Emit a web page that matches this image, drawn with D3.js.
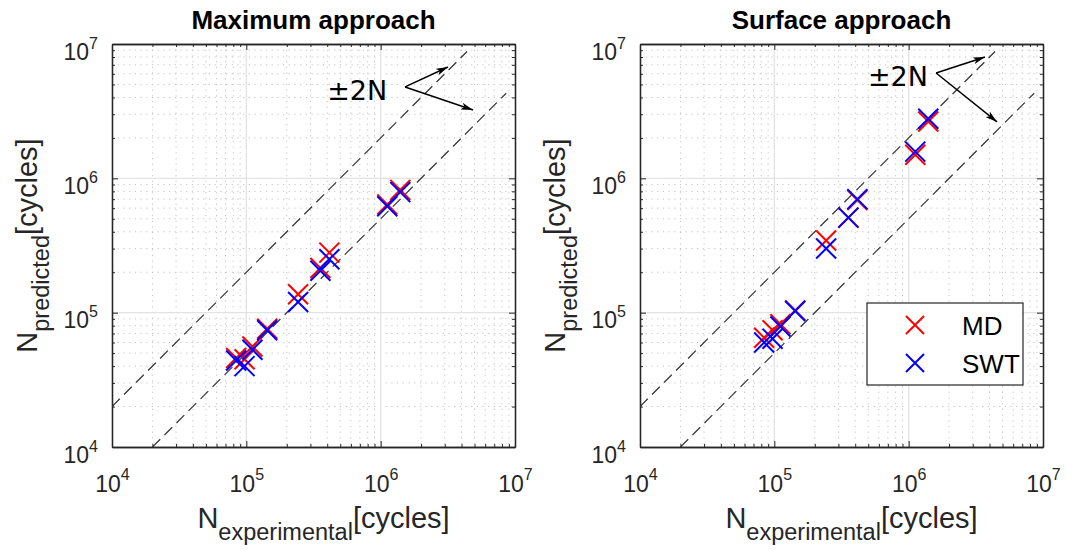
<!DOCTYPE html>
<html>
<head>
<meta charset="utf-8">
<script src="https://cdn.jsdelivr.net/npm/d3@7"></script>
<style>
  html, body { margin: 0; padding: 0; background: #fff; }
  svg { display: block; font-family: "Liberation Sans", Arial, sans-serif; }
</style>
</head>
<body>
<svg id="chart" width="1067" height="550"></svg>
<script>
// ---------------- data ----------------
const panelTitles = ["Maximum approach", "Surface approach"];
const seriesNames = ["MD", "SWT"];
const seriesColors = ["#ff0000", "#0000ff"];
const nExperimental = [8.4e4, 9.7e4, 1.11e5, 1.43e5, 2.43e5, 3.56e5, 4.15e5, 1.12e6, 1.40e6];
const maxMD  = [4.6e4, 4.5e4, 5.6e4, 7.6e4, 1.37e5, 2.15e5, 2.8e5, 6.4e5, 8.2e5];
const maxSWT = [4.4e4, 4.0e4, 5.3e4, 7.4e4, 1.2e5, 2.05e5, 2.5e5, 6.2e5, 7.9e5];
const surfMD  = [6.5e4, 7.4e4, 8.2e4, 1.04e5, 3.45e5, 5.1e5, 6.9e5, 1.5e6, 2.65e6];
const surfSWT = [6.0e4, 6.4e4, 7.9e4, 1.03e5, 3.0e5, 5.1e5, 7.0e5, 1.58e6, 2.78e6];
const majorTicks = [1e4, 1e5, 1e6, 1e7];
const tickExponents = ["4", "5", "6", "7"];
const axisDomain = [1e4, 1e7];
const upperBoundX = [1e4, 4.4e6];   // y = 2x
const lowerBoundX = [2e4, 8.6e6];   // y = x/2
const boundLabel = "\u00b12N";
// annotation anchors in data coordinates
const annotLeft  = { text: [4.0e5, 3.83e6], start: [1.52e6, 4.79e6], up: [3.17e6, 6.74e6], down: [4.87e6, 3.23e6] };
const annotRight = { text: [4.98e5, 4.87e6], start: [1.60e6, 6.08e6], up: [3.70e6, 8.0e6], down: [4.55e6, 2.63e6] };
const xLabelMain = "N", xLabelSub = "experimental";
const yLabelMain = "N", yLabelSub = "predicted";
const unitLabel = "[cycles]";

// ---------------- layout ----------------
const panels = [
  { x0: 112, x1: 515, y0: 44, y1: 447, md: maxMD, swt: maxSWT, annot: annotLeft, legend: false },
  { x0: 640, x1: 1043, y0: 44, y1: 447, md: surfMD, swt: surfSWT, annot: annotRight, legend: true }
];
const svg = d3.select("#chart");
const defs = svg.append("defs");
defs.append("marker").attr("id", "arrow").attr("viewBox", "0 0 12 7")
  .attr("refX", 12).attr("refY", 3.5).attr("markerWidth", 12).attr("markerHeight", 7)
  .attr("markerUnits", "userSpaceOnUse").attr("orient", "auto")
  .append("path").attr("d", "M0,0 L12,3.5 L0,7 L3,3.5 Z").attr("fill", "#000");

const minorTicks = [];
[1e4, 1e5, 1e6].forEach(d => { for (let k = 2; k <= 9; k++) minorTicks.push(d * k); });
const axisColor = "#262626";

function xMark(g, cx, cy, color, r) {
  g.append("path")
    .attr("d", `M${cx - r},${cy - r}L${cx + r},${cy + r}M${cx - r},${cy + r}L${cx + r},${cy - r}`)
    .attr("stroke", color).attr("stroke-width", 2).attr("fill", "none");
}

panels.forEach((p, i) => {
  const x = d3.scaleLog().domain(axisDomain).range([p.x0, p.x1]);
  const y = d3.scaleLog().domain(axisDomain).range([p.y1, p.y0]);
  const g = svg.append("g");

  g.append("rect").attr("x", p.x0).attr("y", p.y0).attr("width", p.x1 - p.x0).attr("height", p.y1 - p.y0).attr("fill", "#fff");

  // minor grid
  g.append("g").selectAll("line").data(minorTicks).join("line")
    .attr("x1", d => x(d)).attr("x2", d => x(d)).attr("y1", p.y0).attr("y2", p.y1)
    .attr("stroke", "#c4c4c4").attr("stroke-width", 1).attr("stroke-dasharray", "1.2,4.5");
  g.append("g").selectAll("line").data(minorTicks).join("line")
    .attr("y1", d => y(d)).attr("y2", d => y(d)).attr("x1", p.x0).attr("x2", p.x1)
    .attr("stroke", "#c4c4c4").attr("stroke-width", 1).attr("stroke-dasharray", "1.2,4.5");
  // major grid
  const inner = majorTicks.slice(1, -1);
  g.append("g").selectAll("line").data(inner).join("line")
    .attr("x1", d => x(d)).attr("x2", d => x(d)).attr("y1", p.y0).attr("y2", p.y1)
    .attr("stroke", "#e3e3e3").attr("stroke-width", 1.3);
  g.append("g").selectAll("line").data(inner).join("line")
    .attr("y1", d => y(d)).attr("y2", d => y(d)).attr("x1", p.x0).attr("x2", p.x1)
    .attr("stroke", "#e3e3e3").attr("stroke-width", 1.3);

  // bound lines
  const clipId = "clip" + i;
  defs.append("clipPath").attr("id", clipId).append("rect")
    .attr("x", p.x0).attr("y", p.y0).attr("width", p.x1 - p.x0).attr("height", p.y1 - p.y0);
  const line = d3.line().x(d => x(d[0])).y(d => y(d[1]));
  const bounds = g.append("g").attr("clip-path", `url(#${clipId})`);
  bounds.append("path").datum(upperBoundX.map(v => [v, 2 * v])).attr("d", line)
    .attr("stroke", "#333").attr("stroke-width", 1.2).attr("fill", "none").attr("stroke-dasharray", "11,6");
  bounds.append("path").datum(lowerBoundX.map(v => [v, v / 2])).attr("d", line)
    .attr("stroke", "#333").attr("stroke-width", 1.2).attr("fill", "none").attr("stroke-dasharray", "11,6");

  // data markers: MD first, SWT on top
  const pts = g.append("g");
  nExperimental.forEach((n, j) => xMark(pts, x(n), y(p.md[j]), seriesColors[0], 10));
  nExperimental.forEach((n, j) => xMark(pts, x(n), y(p.swt[j]), seriesColors[1], 10));

  // axes (ticks inward, all four sides)
  const mk = (axisFn, scale, vals, size) => axisFn(scale).tickValues(vals).tickSize(size).tickSizeOuter(0).tickFormat("");
  const bottom = g.append("g").attr("transform", `translate(0,${p.y1})`).call(mk(d3.axisBottom, x, majorTicks, -6));
  g.append("g").attr("transform", `translate(0,${p.y1})`).call(mk(d3.axisBottom, x, minorTicks, -3));
  g.append("g").attr("transform", `translate(0,${p.y0})`).call(mk(d3.axisTop, x, majorTicks, -6));
  g.append("g").attr("transform", `translate(0,${p.y0})`).call(mk(d3.axisTop, x, minorTicks, -3));
  const left = g.append("g").attr("transform", `translate(${p.x0},0)`).call(mk(d3.axisLeft, y, majorTicks, -6));
  g.append("g").attr("transform", `translate(${p.x0},0)`).call(mk(d3.axisLeft, y, minorTicks, -3));
  g.append("g").attr("transform", `translate(${p.x1},0)`).call(mk(d3.axisRight, y, majorTicks, -6));
  g.append("g").attr("transform", `translate(${p.x1},0)`).call(mk(d3.axisRight, y, minorTicks, -3));
  g.selectAll(".domain").attr("stroke", axisColor).attr("stroke-width", 1.3);
  g.selectAll(".tick line").attr("stroke", axisColor).attr("stroke-width", 1);

  // tick labels 10^n
  bottom.selectAll(".tick text").each(function (d, k) {
    const t = d3.select(this).attr("y", 45).attr("dy", null).attr("fill", axisColor)
      .attr("font-size", 23).attr("text-anchor", "middle");
    t.append("tspan").text("10");
    t.append("tspan").attr("font-size", 16).attr("dy", -12).text(tickExponents[k]);
  });
  left.selectAll(".tick text").each(function (d, k) {
    const t = d3.select(this).attr("x", -14).attr("y", 15).attr("dy", null).attr("fill", axisColor)
      .attr("font-size", 23).attr("text-anchor", "end");
    t.append("tspan").text("10");
    t.append("tspan").attr("font-size", 16).attr("dy", -11).text(tickExponents[k]);
  });

  // titles
  const cx = (p.x0 + p.x1) / 2;
  svg.append("text").attr("x", cx).attr("y", 29).attr("text-anchor", "middle")
    .attr("font-weight", "bold").attr("font-size", 26).attr("fill", "#000").text(panelTitles[i]);

  // x label
  const xl = svg.append("text").attr("x", cx + 10).attr("y", 528).attr("text-anchor", "middle")
    .attr("font-size", 29).attr("fill", axisColor);
  xl.append("tspan").text(xLabelMain);
  xl.append("tspan").attr("font-size", 23.5).attr("dy", 12).text(xLabelSub);
  xl.append("tspan").attr("dy", -12).text(unitLabel);

  // y label
  const cy = (p.y0 + p.y1) / 2;
  const yl = svg.append("text").attr("transform", `translate(${p.x0 - 75},${cy}) rotate(-90)`)
    .attr("text-anchor", "middle").attr("font-size", 29).attr("fill", axisColor);
  yl.append("tspan").text(yLabelMain);
  yl.append("tspan").attr("font-size", 23.5).attr("dy", 12).text(yLabelSub);
  yl.append("tspan").attr("dy", -12).text(unitLabel);

  // annotation
  const a = p.annot;
  g.append("text").attr("x", x(a.text[0])).attr("y", y(a.text[1])).attr("font-size", 27)
    .attr("font-family", "'DejaVu Sans', sans-serif").attr("fill", "#000").text(boundLabel);
  [a.up, a.down].forEach(e => {
    g.append("line").attr("x1", x(a.start[0])).attr("y1", y(a.start[1]))
      .attr("x2", x(e[0])).attr("y2", y(e[1]))
      .attr("stroke", "#000").attr("stroke-width", 1.5).attr("marker-end", "url(#arrow)");
  });

  // legend
  if (p.legend) {
    const lg = g.append("g");
    lg.append("rect").attr("x", 867).attr("y", 303).attr("width", 156).attr("height", 82)
      .attr("fill", "#fff").attr("stroke", axisColor).attr("stroke-width", 1.2);
    seriesNames.forEach((s, k) => {
      const yy = 325 + k * 38;
      xMark(lg, 915, yy, seriesColors[k], 9);
      lg.append("text").attr("x", 962).attr("y", yy + 9.5).attr("font-size", 26).attr("fill", "#000").text(s);
    });
  }
});
</script>
</body>
</html>
